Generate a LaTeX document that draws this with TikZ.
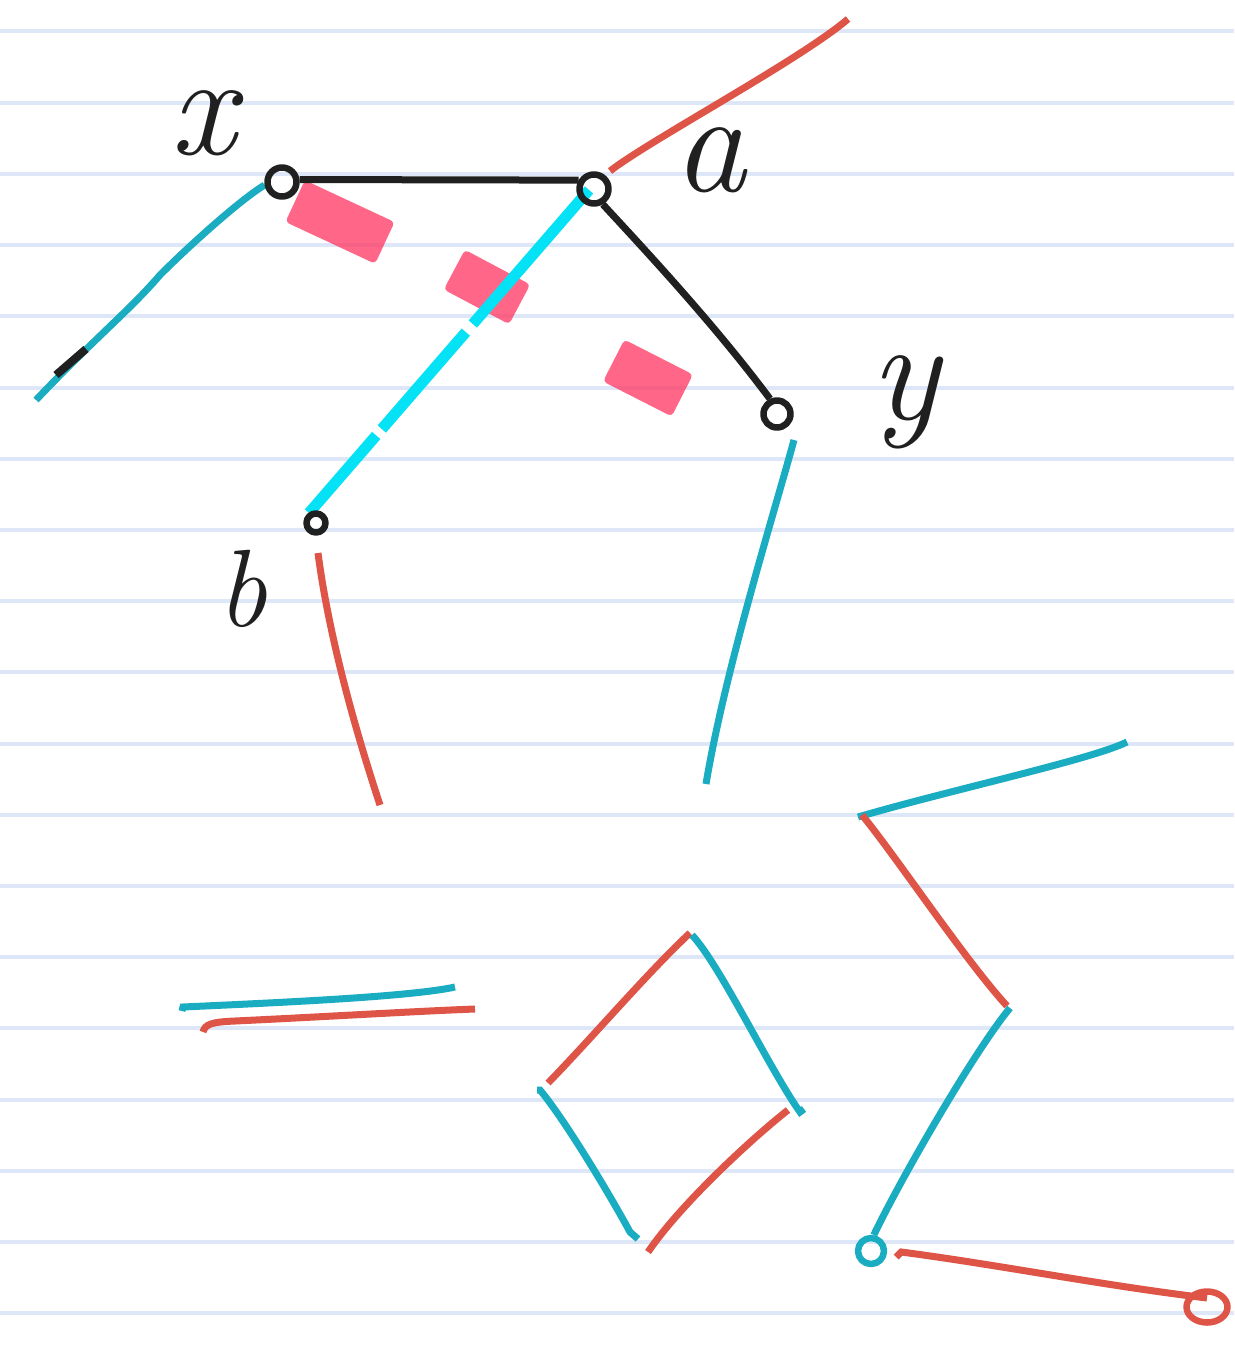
\documentclass[tikz,border=0pt]{standalone}
\usetikzlibrary{calc,shapes.geometric}
\definecolor{paperline}{RGB}{221,231,248}
\definecolor{tealpen}{RGB}{26,173,194}
\definecolor{redpen}{RGB}{222,84,70}
\definecolor{cyanpen}{RGB}{5,226,245}
\definecolor{blackpen}{RGB}{32,32,32}
\definecolor{hlpink}{RGB}{255,60,102}
\pgfdeclarelayer{paper}
\pgfdeclarelayer{under}
\pgfsetlayers{paper,under,main}
\begin{document}
\begin{tikzpicture}[x=1pt,y=-1pt, line cap=round, line join=round,
  pen/.style={line width=7pt},
  blk/.style={pen, draw=blackpen},
  tl/.style={pen, draw=tealpen},
  rd/.style={pen, draw=redpen},
  cy/.style={line width=11pt, draw=cyanpen},
  vtx/.style={circle, draw=blackpen, line width=6.5pt, inner sep=0pt, minimum size=#1},
  hl/.style={fill=hlpink, fill opacity=0.78, draw=none, inner sep=0pt, rounded corners=4pt},
  lbl/.style={text=blackpen, inner sep=0pt, font=\fontsize{145}{145}\selectfont\itshape},
  rulestyle/.style={line width=4pt, draw=paperline}]

\useasboundingbox (0,0) rectangle (1234,1346);

% ---- nodes ----
\node[vtx=29pt] (x) at (282,182) {};
\node[vtx=29pt] (a) at (594,189) {};
\node[vtx=27pt] (y) at (777,414) {};
\node[vtx=19pt] (b) at (316,523) {};
\node[circle, draw=tealpen, line width=6.5pt, minimum size=26pt, inner sep=0pt] (c1) at (871,1251) {};
\node[ellipse, draw=redpen, line width=6.5pt, minimum width=41pt, minimum height=31pt, inner sep=0pt] (c2) at (1207,1307) {};

\node[lbl, anchor=base] (lx) at (203,154) {x};
\node[lbl, anchor=base] (la) at (710,191) {a};
\node[lbl, anchor=base] (ly) at (905,419) {y};
\node[lbl, anchor=base, font=\fontsize{110}{110}\selectfont\itshape] (lb) at (242,626) {b};

% ---- paper ----
\begin{pgfonlayer}{paper}
  \fill[white] (0,0) rectangle (1234,1346);
  \foreach \k in {0,...,18}
    \draw[rulestyle] (0,{31.5+71.2*\k}) -- (1234,{31.5+71.2*\k});
\end{pgfonlayer}

\begin{pgfonlayer}{under}
  % highlighter marks
  \node[hl, minimum width=99pt, minimum height=46pt, rotate=-25] (h1) at (340,222) {};
  \node[hl, minimum width=74pt, minimum height=45pt, rotate=-28] (h2) at (487,287) {};
  \node[hl, minimum width=77pt, minimum height=47pt, rotate=-27] (h3) at (648,378) {};

  % bright cyan a--b
  \coordinate (cyA) at ($(a)+(-5,1)$);
  \coordinate (cyB) at ($(b)+(-7,-10)$);
  \draw[cy] (cyA) -- ($(cyA)!0.415!(cyB)$);
  \draw[cy] ($(cyA)!0.44!(cyB)$) -- ($(cyA)!0.74!(cyB)$);
  \draw[cy] ($(cyA)!0.76!(cyB)$) -- (cyB);

  % black edges
  \draw[blk] (x.8) -- (a.150);
  \draw[blk] (a.-60) .. controls (645,250) and (715,325) .. (y.115);

  % teal from x
  \coordinate (xe) at (36,400);
  \draw[tl] (x.190) .. controls (240,200) and (190,245) .. (160,275)
            .. controls (130,310) and (95,338) .. (xe);
  \coordinate (tk1) at (56,375);
  \coordinate (tk2) at (86,349);
  \draw[blk, line width=8pt] (tk1) -- (tk2);

  % red from a
  \coordinate (ra0) at (610,171);
  \coordinate (ra1) at (848,19);
  \draw[rd] (ra0) .. controls (650,140) and (800,60) .. (ra1);

  % red below b
  \coordinate (rb0) at (318,553);
  \coordinate (rb1) at (380,805);
  \draw[rd] (rb0) .. controls (328,630) and (352,720) .. (rb1);

  % teal below y
  \coordinate (ty0) at (794,440);
  \coordinate (ty1) at (706,784);
  \draw[tl] (ty0) .. controls (775,510) and (725,670) .. (ty1);

  % equals sign
  \coordinate (e1a) at (183,1007);
  \coordinate (e1b) at (455,987);
  \draw[tl] ($(e1a)+(-1,4)$) -- (e1a) .. controls (270,1003) and (410,997) .. (e1b);
  \coordinate (e2a) at (203,1032);
  \coordinate (e2b) at (475,1009);
  \draw[rd] (e2a) .. controls (205,1024) and (212,1022) .. (235,1021)
            .. controls (320,1017) and (420,1011) .. (e2b);

  % diamond
  \coordinate (dT1) at (690,933);
  \coordinate (dL1) at (548,1083);
  \draw[rd] (dT1) .. controls (650,970) and (590,1040) .. (dL1);
  \coordinate (dT2) at (692,935);
  \coordinate (dR2) at (800,1112);
  \draw[tl] (dT2) .. controls (720,965) and (770,1070) .. (dR2) -- ++(4,-3);
  \coordinate (dL2) at (540,1090);
  \coordinate (dB2) at (638,1239);
  \draw[tl] ($(dL2)+(-3,0)$) -- (dL2) .. controls (565,1120) and (610,1195) .. (630,1232) -- (dB2);
  \coordinate (dR1) at (788,1110);
  \coordinate (dB1) at (648,1252);
  \draw[rd] (dR1) .. controls (750,1140) and (680,1205) .. (dB1);

  % right structure
  \coordinate (rT) at (858,817);
  \coordinate (rE) at (1127,742);
  \draw[tl] (rT) .. controls (950,790) and (1090,760) .. (rE);
  \coordinate (rT2) at (862,815);
  \coordinate (rM) at (1007,1006);
  \draw[rd] (rT2) .. controls (895,855) and (965,960) .. (rM);
  \coordinate (rM2) at (1010,1008);
  \draw[tl] (rM2) .. controls (975,1050) and (900,1180) .. (c1.80);
  \draw[rd] ($(c1.east)+(9,6)$) -- ($(c1.east)+(14,1)$)
            .. controls (1000,1265) and (1100,1285) .. ($(c2)+(0,-9)$);
\end{pgfonlayer}
\end{tikzpicture}
\end{document}
